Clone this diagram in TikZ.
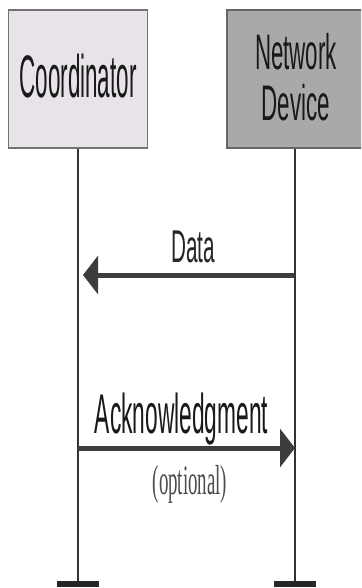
\documentclass[tikz,border=0pt]{standalone}
\usepackage{fontspec}
\setmainfont{Liberation Serif}
\setsansfont{Liberation Sans}
\usetikzlibrary{arrows.meta}

\definecolor{coordfill}{HTML}{E7E3E9}
\definecolor{devfill}{HTML}{A9A8AA}
\definecolor{msggray}{HTML}{3D3D3D}

% narrow the lettering sideways only
\newcommand{\squeeze}[2]{\scalebox{#1}[1]{#2}}

\begin{document}
\begin{tikzpicture}[x=1pt, y=-1pt,
        box/.style={draw=black!55, line width=1.5pt, minimum height=138pt, inner sep=0pt},
        lifeline/.style={draw=black!80, line width=1.4pt},
        stopbar/.style={fill=black!85, minimum width=42pt, minimum height=6pt, inner sep=0pt},
        msg/.style={draw=msggray, line width=5pt, -{Triangle[length=15pt, width=38pt]}},
        lbl/.style={anchor=base, inner sep=0pt, font=\sffamily}]
        \clip (0,0) rectangle (361,588);

        % the two parties
        \node[box, fill=coordfill, minimum width=139pt] (coord) at (78, 79) {};
        \node[box, fill=devfill, draw=black!60, minimum width=136pt] (dev) at (295, 79) {};
        \node[lbl, text=black!90] (coordname) at (78, 98)
            {\fontsize{60}{60}\selectfont\squeeze{0.374}{Coordinator}};
        \node[lbl, text=black!90] (devname) at (296, 70)
            {\fontsize{50}{47}\selectfont\squeeze{0.447}{\begin{tabular}[t]{@{}c@{}}Network\\Device\end{tabular}}};

        % lifelines with their end bars
        \node[stopbar] (cstop) at (78, 584) {};
        \node[stopbar] (dstop) at (295, 584) {};
        \draw[lifeline] (coord) -- (cstop);
        \draw[lifeline] (dev) -- (dstop);

        % messages
        \coordinate (cdata) at (83, 275);
        \coordinate (ddata) at (295, 275);
        \coordinate (cack) at (78, 448);
        \coordinate (dack) at (295, 448);
        \draw[msg] (ddata) -- (cdata);
        \draw[msg] (cack) -- (dack);

        \node[lbl, text=black!85] (data) at (193, 262)
            {\fontsize{46}{46}\selectfont\squeeze{0.45}{Data}};
        \node[lbl, text=black!90] (ack) at (181.5, 433)
            {\fontsize{56}{56}\selectfont\squeeze{0.406}{Acknowledgment}};
        \node[anchor=base, inner sep=0pt, text=black!70] (opt) at (190, 494)
            {\fontsize{42}{42}\selectfont\squeeze{0.45}{(optional)}};
\end{tikzpicture}
\end{document}
